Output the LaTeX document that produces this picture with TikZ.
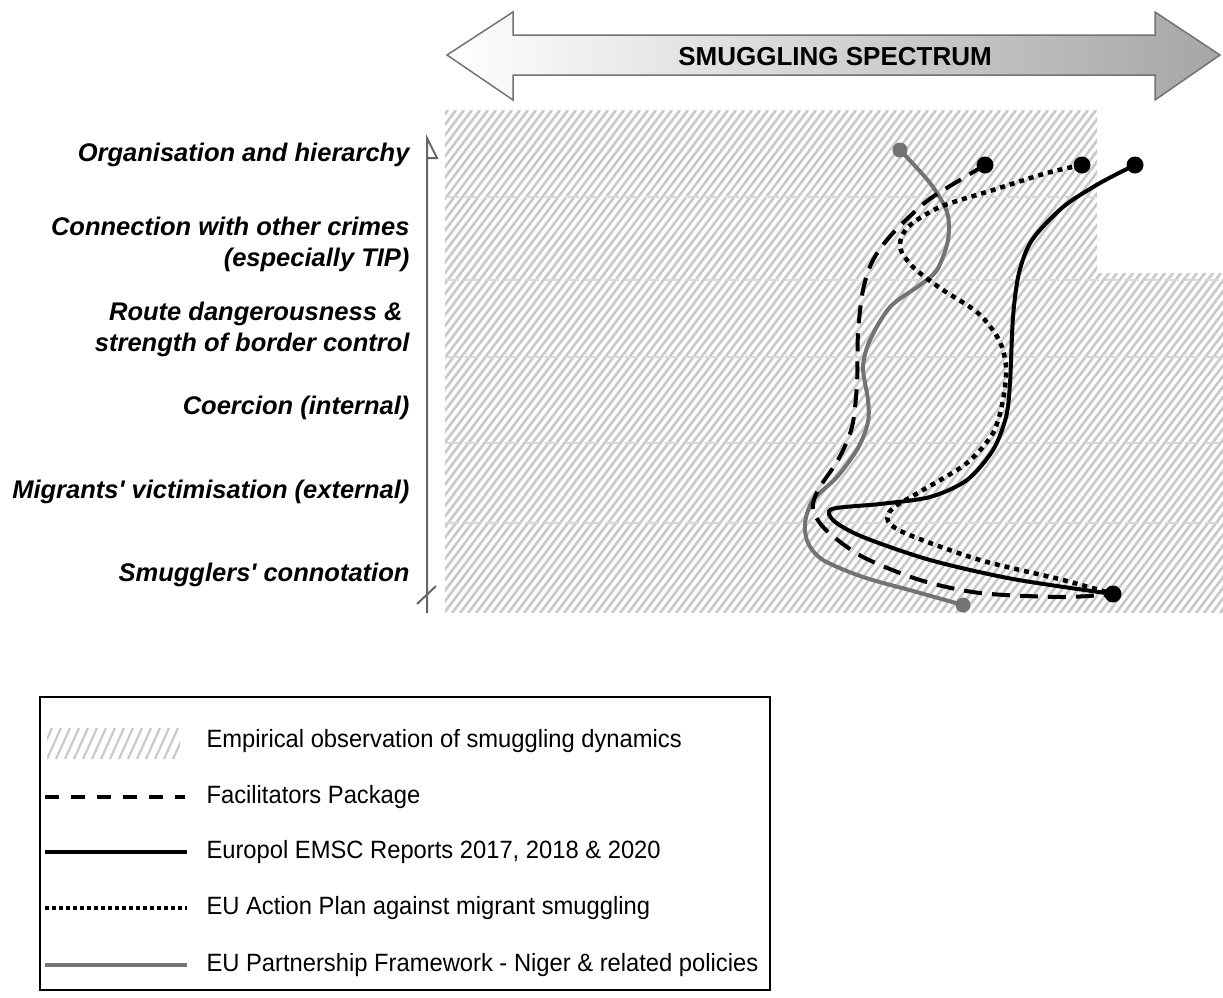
\documentclass[tikz,border=0pt]{standalone}
\usepackage{fontspec}
\setmainfont{Liberation Sans}
\newfontfamily\narrowsans[FakeStretch=0.95]{Liberation Sans}
\tikzset{
  rowlabel/.style={anchor=east, align=right, font=\fontsize{25.5}{31}\selectfont\bfseries\itshape},
  legtext/.style={anchor=west, font=\narrowsans\fontsize{25}{28}\selectfont},
  hatchline/.style={gray!42, line width=2.6pt},
  axisline/.style={black!60, line width=2pt},
  fpline/.style={line width=4pt, dash pattern=on 18pt off 10pt},
  emscline/.style={line width=4pt},
  actline/.style={line width=4.5pt, dash pattern=on 5pt off 5pt},
  pfline/.style={line width=4pt, black!55},
  bigdot/.style={circle, fill, inner sep=0pt, minimum size=17pt},
  greydot/.style={circle, fill=black!55, inner sep=0pt, minimum size=15pt},
}
\begin{document}
\begin{tikzpicture}[x=1pt, y=-1pt]
        \useasboundingbox (0,0) rectangle (1223,997);
        % spectrum arrow
        \shadedraw[left color=white, right color=black!35, draw=black!55, line width=1.5pt]
          (447,55) -- (513,12) -- (513,35) -- (1155,35) -- (1155,12) -- (1220,55)
          -- (1155,100) -- (1155,75) -- (513,75) -- (513,100) -- cycle;
        \node[font=\fontsize{26}{30}\selectfont\bfseries] (spectrum) at (835,57) {SMUGGLING SPECTRUM};
        % empirical hatching
        \begin{scope}
          \clip (445,110) -- (1097,110) -- (1097,273) -- (1223,273) -- (1223,613) -- (445,613) -- cycle;
          \foreach \x in {20,28,...,1223}
            \draw[hatchline] (\x,613) -- ++(380,-503);
          \foreach \y in {197,280,357,443,523}
            \draw[hatchline, gray!30, dash pattern=on 14pt off 6pt] (445,\y) -- (1223,\y);
        \end{scope}
        % axis
        \draw[axisline] (427,613) -- (427,138) -- (437,158) -- (427,158);
        \draw[axisline] (417,604) -- (436,586);
        \node[rowlabel] (org) at (413,155) {Organisation and hierarchy};
        \node[rowlabel] (crimes) at (413,244) {Connection with other crimes\\(especially TIP)};
        \node[rowlabel] (route) at (413,329) {Route dangerousness \&\hspace*{7pt}\\strength of border control};
        \node[rowlabel] (coercion) at (413,408) {Coercion (internal)};
        \node[rowlabel] (victim) at (413,492) {Migrants\textquotesingle{} victimisation (external)};
        \node[rowlabel] (connot) at (413,575) {Smugglers\textquotesingle{} connotation};
        % curve ends
        \coordinate (pf-a) at (900,150);
        \coordinate (pf-b) at (963,605);
        \coordinate (fp-a) at (985,165);
        \coordinate (act-a) at (1082,165);
        \coordinate (emsc-a) at (1135,165);
        \coordinate (low) at (1113,594);
        % curves
        \draw[pfline] plot[smooth] coordinates {(pf-a) (930,183) (947,212) (948,240) (937,270)
          (920,285) (890,307) (870,340) (863,367) (868,400) (868,422) (858,448) (837,477)
          (813,500) (805,523) (808,543) (823,560) (863,577) (913,591) (pf-b)};
        \draw[fpline] plot[smooth] coordinates {(fp-a) (960,180) (927,201) (893,233) (873,260)
          (863,290) (858,333) (857,383) (852,427) (838,460) (818,490) (813,510) (827,531)
          (863,557) (920,580) (980,593) (1063,597) (low)};
        \draw[emscline] plot[smooth] coordinates {(emsc-a) (1100,183) (1063,207) (1032,240)
          (1019,273) (1013,317) (1010,383) (1006,417) (993,450) (967,480) (930,497)
          (880,504) (832,509) (834,521) (863,537) (930,560) (1013,579) (low)};
        \draw[actline] plot[smooth] coordinates {(act-a) (1047,173) (993,190) (940,207) (908,227)
          (900,247) (913,267) (940,288) (978,313) (999,340) (1006,367) (1003,400) (993,433)
          (967,463) (923,490) (893,508) (888,521) (907,534) (980,560) (1063,580) (low)};
        % dots
        \node[greydot] (pfstart) at (pf-a) {};
        \node[greydot] (pfend) at (pf-b) {};
        \node[bigdot] (fpstart) at (fp-a) {};
        \node[bigdot] (actstart) at (act-a) {};
        \node[bigdot] (emscstart) at (emsc-a) {};
        \node[bigdot] (lowend) at (low) {};
        % legend
        \draw[line width=1.8pt] (40,697) rectangle (770,990);
        \begin{scope}
          \clip (47,728) rectangle (180,759);
          \foreach \x in {38,47,...,180}
            \draw[hatchline, line width=2.2pt] (\x,759) -- ++(14,-31);
        \end{scope}
        \draw[fpline, line width=3.5pt, dash pattern=on 14pt off 12pt] (45,797) -- (185,797);
        \draw[emscline] (45,852) -- (187,852);
        \draw[actline, line width=3.5pt, dash pattern=on 3.5pt off 3.5pt] (45,908) -- (187,908);
        \draw[pfline] (45,965) -- (187,965);
        \node[legtext] (leghatch) at (203,741) {Empirical observation of smuggling dynamics};
        \node[legtext] (legfp) at (203,797) {Facilitators Package};
        \node[legtext] (legemsc) at (203,852) {Europol EMSC Reports 2017, 2018 \& 2020};
        \node[legtext] (legact) at (203,908) {EU Action Plan against migrant smuggling};
        \node[legtext] (legpf) at (203,965) {EU Partnership Framework - Niger \& related policies};
\end{tikzpicture}
\end{document}
